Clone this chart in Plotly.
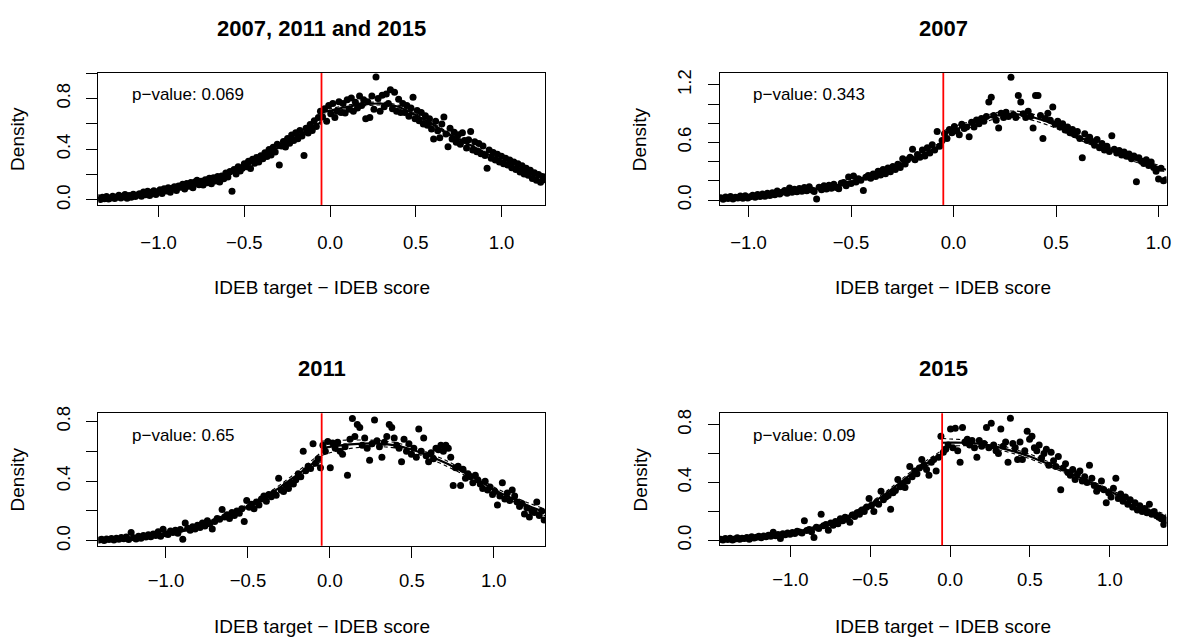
import numpy as np
import plotly.graph_objects as go

# ---------------- data ----------------
cutoff = -0.05
titles = ["2007, 2011 and 2015", "2007", "2011", "2015"]
pvalues = ["0.069", "0.343", "0.65", "0.09"]
bin_width = [0.012, 0.012, 0.015, 0.015]

# binned densities (left / right of cutoff, ordered by x)
p1_left = [0.018, 0.004, 0.022, 0.010, 0.028, 0.008, 0.016, 0.030, 0.012, 0.024,
           0.038, 0.016, 0.030, 0.044, 0.014, 0.036, 0.022, 0.046, 0.028, 0.040,
           0.050, 0.030, 0.062, 0.042, 0.068, 0.036, 0.060, 0.072, 0.044, 0.064,
           0.080, 0.052, 0.088, 0.070, 0.096, 0.060, 0.092, 0.104, 0.074, 0.110,
           0.100, 0.124, 0.086, 0.130, 0.108, 0.138, 0.096, 0.142, 0.155, 0.120,
           0.148, 0.118, 0.160, 0.136, 0.172, 0.128, 0.176, 0.150, 0.185, 0.142,
           0.190, 0.168, 0.212, 0.182, 0.225, 0.068, 0.240, 0.205, 0.262, 0.228,
           0.250, 0.285, 0.262, 0.305, 0.248, 0.322, 0.290, 0.335, 0.300, 0.348,
           0.325, 0.372, 0.342, 0.398, 0.355, 0.415, 0.378, 0.440, 0.275, 0.425,
           0.462, 0.418, 0.485, 0.448, 0.512, 0.470, 0.530, 0.482, 0.548, 0.505,
           0.350, 0.565, 0.528, 0.595, 0.548, 0.625, 0.580, 0.650, 0.700]
p1_right = [0.655, 0.720, 0.620, 0.745, 0.680, 0.760, 0.650, 0.700, 0.775, 0.690,
            0.760, 0.685, 0.790, 0.715, 0.805, 0.700, 0.770, 0.725, 0.820, 0.745,
            0.790, 0.640, 0.775, 0.650, 0.820, 0.715, 0.970, 0.800, 0.700, 0.825,
            0.735, 0.835, 0.760, 0.870, 0.720, 0.850, 0.700, 0.795, 0.690, 0.760,
            0.690, 0.745, 0.660, 0.725, 0.810, 0.640, 0.705, 0.625, 0.690, 0.600,
            0.665, 0.590, 0.640, 0.560, 0.480, 0.620, 0.545, 0.490, 0.600, 0.655,
            0.520, 0.420, 0.565, 0.480, 0.535, 0.455, 0.515, 0.440, 0.530, 0.470,
            0.410, 0.475, 0.540, 0.395, 0.460, 0.380, 0.445, 0.365, 0.425, 0.350,
            0.250, 0.395, 0.330, 0.375, 0.315, 0.360, 0.300, 0.345, 0.285, 0.330,
            0.275, 0.315, 0.255, 0.300, 0.240, 0.285, 0.220, 0.270, 0.205, 0.250,
            0.195, 0.235, 0.170, 0.215, 0.155, 0.200, 0.140, 0.185, 0.160]

p2_left = [0.025, 0.008, 0.032, 0.015, 0.038, 0.010, 0.030, 0.020, 0.042, 0.018,
           0.045, 0.022, 0.035, 0.050, 0.028, 0.058, 0.036, 0.062, 0.040, 0.070,
           0.048, 0.075, 0.055, 0.095, 0.062, 0.080, 0.100, 0.070, 0.125, 0.082,
           0.112, 0.085, 0.120, 0.092, 0.130, 0.098, 0.138, 0.105, 0.090, 0.012,
           0.132, 0.108, 0.148, 0.115, 0.155, 0.122, 0.165, 0.130, 0.118, 0.175,
           0.182, 0.150, 0.240, 0.172, 0.250, 0.188, 0.222, 0.205, 0.100, 0.238,
           0.255, 0.228, 0.270, 0.245, 0.300, 0.260, 0.318, 0.275, 0.335, 0.295,
           0.350, 0.318, 0.372, 0.340, 0.430, 0.375, 0.420, 0.445, 0.530, 0.420,
           0.475, 0.445, 0.520, 0.460, 0.545, 0.490, 0.575, 0.520, 0.715, 0.560,
           0.620]
p2_right = [0.690, 0.640, 0.735, 0.700, 0.765, 0.720, 0.680, 0.790, 0.745, 0.760,
            0.660, 0.810, 0.760, 0.835, 0.795, 0.850, 0.820, 0.870, 1.020, 1.070,
            0.880, 0.830, 0.750, 0.905, 0.860, 0.915, 0.870, 1.278, 0.890, 0.860,
            1.090, 1.020, 0.900, 0.860, 0.925, 0.870, 0.750, 1.090, 1.090, 0.880,
            0.640, 0.850, 0.905, 0.830, 0.970, 0.790, 0.820, 0.760, 0.795, 0.730,
            0.760, 0.700, 0.735, 0.680, 0.715, 0.640, 0.440, 0.690, 0.620, 0.655,
            0.610, 0.570, 0.630, 0.545, 0.590, 0.520, 0.560, 0.505, 0.670, 0.530,
            0.490, 0.515, 0.470, 0.500, 0.455, 0.480, 0.430, 0.460, 0.190, 0.440,
            0.405, 0.380, 0.420, 0.360, 0.395, 0.340, 0.300, 0.220, 0.330, 0.200,
            0.210]

p3_left = [0.005, 0.010, 0.002, 0.012, 0.008, 0.015, 0.006, 0.018, 0.010, 0.022,
           0.014, 0.025, 0.008, 0.055, 0.020, 0.012, 0.030, 0.018, 0.035, 0.025,
           0.040, 0.028, 0.045, 0.035, 0.060, 0.030, 0.077, 0.048, 0.042, 0.065,
           0.055, 0.070, 0.050, 0.075, 0.010, 0.120, 0.085, 0.070, 0.095, 0.080,
           0.105, 0.090, 0.120, 0.100, 0.135, 0.115, 0.080, 0.130, 0.150, 0.145,
           0.210, 0.160, 0.175, 0.150, 0.190, 0.170, 0.200, 0.185, 0.215, 0.130,
           0.270, 0.225, 0.245, 0.215, 0.260, 0.240, 0.280, 0.300, 0.265, 0.310,
           0.295, 0.320, 0.305, 0.420, 0.340, 0.330, 0.370, 0.350, 0.390, 0.380,
           0.410, 0.450, 0.430, 0.600, 0.470, 0.500, 0.485, 0.650, 0.520, 0.550,
           0.490]
p3_right = [0.640, 0.600, 0.665, 0.490, 0.655, 0.620, 0.660, 0.600, 0.580, 0.630,
            0.440, 0.680, 0.820, 0.700, 0.780, 0.760, 0.640, 0.690, 0.620, 0.540,
            0.650, 0.810, 0.670, 0.630, 0.560, 0.660, 0.700, 0.780, 0.760, 0.690,
            0.640, 0.620, 0.530, 0.680, 0.600, 0.650, 0.580, 0.620, 0.560, 0.750,
            0.600, 0.690, 0.570, 0.530, 0.590, 0.550, 0.620, 0.610, 0.640, 0.600,
            0.640, 0.620, 0.560, 0.370, 0.490, 0.500, 0.370, 0.480, 0.420, 0.450,
            0.430, 0.390, 0.440, 0.410, 0.380, 0.350, 0.400, 0.340, 0.360, 0.310,
            0.330, 0.240, 0.300, 0.390, 0.280, 0.320, 0.270, 0.340, 0.300, 0.260,
            0.230, 0.250, 0.180, 0.220, 0.160, 0.200, 0.190, 0.260, 0.170, 0.200,
            0.140]

p4_left = [0.008, 0.003, 0.012, 0.006, 0.015, 0.002, 0.010, 0.018, 0.007, 0.014,
           0.012, 0.020, 0.008, 0.025, 0.016, 0.022, 0.028, 0.018, 0.030, 0.024,
           0.035, 0.028, 0.056, 0.032, 0.040, 0.012, 0.045, 0.038, 0.050, 0.042,
           0.055, 0.048, 0.062, 0.058, 0.050, 0.135, 0.068, 0.075, 0.060, 0.020,
           0.090, 0.082, 0.180, 0.100, 0.110, 0.070, 0.120, 0.105, 0.130, 0.115,
           0.150, 0.135, 0.160, 0.145, 0.125, 0.175, 0.165, 0.190, 0.180, 0.210,
           0.200, 0.230, 0.290, 0.240, 0.200, 0.260, 0.250, 0.340, 0.280, 0.300,
           0.310, 0.215, 0.330, 0.345, 0.420, 0.370, 0.390, 0.365, 0.410, 0.510,
           0.440, 0.480, 0.460, 0.500, 0.560, 0.520, 0.490, 0.450, 0.540, 0.560,
           0.480, 0.575, 0.720]
p4_right = [0.610, 0.630, 0.660, 0.770, 0.640, 0.775, 0.620, 0.540, 0.780, 0.680,
            0.700, 0.660, 0.690, 0.640, 0.575, 0.690, 0.650, 0.670, 0.780, 0.640,
            0.810, 0.660, 0.620, 0.600, 0.770, 0.650, 0.680, 0.540, 0.845, 0.670,
            0.640, 0.560, 0.680, 0.560, 0.620, 0.755, 0.700, 0.720, 0.640, 0.620,
            0.660, 0.570, 0.600, 0.630, 0.520, 0.610, 0.550, 0.510, 0.580, 0.350,
            0.500, 0.530, 0.470, 0.450, 0.490, 0.420, 0.460, 0.480, 0.410, 0.440,
            0.400, 0.520, 0.430, 0.380, 0.340, 0.360, 0.410, 0.350, 0.260, 0.330,
            0.300, 0.360, 0.430, 0.290, 0.320, 0.270, 0.300, 0.250, 0.280, 0.230,
            0.260, 0.210, 0.240, 0.200, 0.220, 0.190, 0.250, 0.180, 0.200, 0.170,
            0.160, 0.150, 0.110, 0.140]

# fitted densities (local linear fits), with CI half widths
f1_lx = [-1.352, -1.2, -1.0, -0.9, -0.8, -0.7, -0.6, -0.5, -0.4, -0.3, -0.2, -0.1, -0.05]
f1_ly = [0.012, 0.028, 0.060, 0.085, 0.115, 0.148, 0.195, 0.262, 0.335, 0.415, 0.495, 0.575, 0.615]
f1_lh = [0.004, 0.005, 0.006, 0.006, 0.007, 0.007, 0.008, 0.008, 0.009, 0.010, 0.011, 0.013, 0.015]
f1_rx = [-0.05, 0.0, 0.1, 0.2, 0.3, 0.4, 0.5, 0.6, 0.7, 0.8, 0.9, 1.0, 1.1, 1.2, 1.256]
f1_ry = [0.690, 0.705, 0.735, 0.755, 0.760, 0.735, 0.670, 0.595, 0.515, 0.445, 0.375, 0.310, 0.250, 0.195, 0.168]
f1_rh = [0.018, 0.015, 0.013, 0.012, 0.012, 0.012, 0.011, 0.011, 0.010, 0.010, 0.009, 0.009, 0.009, 0.009, 0.010]

f2_lx = [-1.136, -1.0, -0.9, -0.8, -0.7, -0.6, -0.5, -0.4, -0.3, -0.2, -0.1, -0.05]
f2_ly = [0.020, 0.035, 0.058, 0.085, 0.110, 0.140, 0.190, 0.250, 0.330, 0.430, 0.530, 0.590]
f2_lh = [0.008, 0.008, 0.009, 0.010, 0.011, 0.012, 0.013, 0.015, 0.017, 0.020, 0.024, 0.028]
f2_rx = [-0.05, 0.0, 0.1, 0.2, 0.3, 0.4, 0.5, 0.6, 0.7, 0.8, 0.9, 1.0, 1.036]
f2_ry = [0.680, 0.730, 0.800, 0.875, 0.895, 0.855, 0.780, 0.670, 0.575, 0.490, 0.410, 0.340, 0.315]
f2_rh = [0.040, 0.035, 0.032, 0.032, 0.033, 0.033, 0.032, 0.030, 0.027, 0.024, 0.022, 0.022, 0.024]

f3_lx = [-1.4075, -1.2, -1.0, -0.9, -0.8, -0.7, -0.6, -0.5, -0.4, -0.3, -0.2, -0.1, -0.05]
f3_ly = [0.005, 0.020, 0.045, 0.068, 0.098, 0.138, 0.180, 0.232, 0.292, 0.362, 0.442, 0.522, 0.565]
f3_lh = [0.005, 0.006, 0.007, 0.008, 0.009, 0.010, 0.011, 0.012, 0.014, 0.016, 0.020, 0.026, 0.032]
f3_rx = [-0.05, 0.0, 0.1, 0.2, 0.3, 0.4, 0.5, 0.6, 0.7, 0.8, 0.9, 1.0, 1.1, 1.2, 1.315]
f3_ry = [0.620, 0.630, 0.645, 0.652, 0.652, 0.640, 0.612, 0.572, 0.525, 0.470, 0.410, 0.345, 0.290, 0.240, 0.190]
f3_rh = [0.048, 0.040, 0.030, 0.024, 0.020, 0.018, 0.018, 0.018, 0.018, 0.017, 0.016, 0.016, 0.017, 0.019, 0.022]

f4_lx = [-1.4375, -1.2, -1.0, -0.9, -0.8, -0.7, -0.6, -0.5, -0.4, -0.3, -0.2, -0.1, -0.05]
f4_ly = [0.005, 0.020, 0.050, 0.074, 0.104, 0.140, 0.190, 0.250, 0.325, 0.410, 0.495, 0.565, 0.600]
f4_lh = [0.004, 0.005, 0.006, 0.007, 0.008, 0.009, 0.010, 0.012, 0.014, 0.016, 0.018, 0.022, 0.025]
f4_rx = [-0.05, 0.0, 0.1, 0.2, 0.3, 0.4, 0.5, 0.6, 0.7, 0.8, 0.9, 1.0, 1.1, 1.2, 1.3, 1.3525]
f4_ry = [0.675, 0.676, 0.675, 0.665, 0.645, 0.615, 0.580, 0.535, 0.490, 0.440, 0.390, 0.340, 0.285, 0.232, 0.187, 0.165]
f4_rh = [0.030, 0.025, 0.020, 0.018, 0.017, 0.016, 0.016, 0.015, 0.015, 0.014, 0.013, 0.013, 0.012, 0.012, 0.012, 0.013]

x_ranges = [[-1.352, 1.256], [-1.141, 1.039], [-1.413, 1.315], [-1.443, 1.355]]
y_ranges = [[-0.039, 1.001], [-0.051, 1.323], [-0.033, 0.855], [-0.034, 0.879]]
x_tickvals = [-1.0, -0.5, 0.0, 0.5, 1.0]
x_ticktext = ["\u22121.0", "\u22120.5", "0.0", "0.5", "1.0"]
y_tickvals = [[0, 0.2, 0.4, 0.6, 0.8, 1.0], [0, 0.2, 0.4, 0.6, 0.8, 1.0, 1.2],
              [0, 0.2, 0.4, 0.6, 0.8], [0, 0.2, 0.4, 0.6, 0.8]]
y_ticktext = [["0.0", "", "0.4", "", "0.8", ""], ["0.0", "", "", "0.6", "", "", "1.2"],
              ["0.0", "", "0.4", "", "0.8"], ["0.0", "", "0.4", "", "0.8"]]
xlabel = "IDEB target \u2212 IDEB score"
ylabel = "Density"

points = [(p1_left, p1_right), (p2_left, p2_right), (p3_left, p3_right), (p4_left, p4_right)]
fits = [(f1_lx, f1_ly, f1_lh, f1_rx, f1_ry, f1_rh),
        (f2_lx, f2_ly, f2_lh, f2_rx, f2_ry, f2_rh),
        (f3_lx, f3_ly, f3_lh, f3_rx, f3_ry, f3_rh),
        (f4_lx, f4_ly, f4_lh, f4_rx, f4_ry, f4_rh)]

# ---------------- layout (pixels) ----------------
W, H = 1182, 642
boxes = [(98.7, 547.7, 67.3, 201.7), (722.7, 1171.5, 67.3, 201.7),
         (98.7, 547.7, 414.0, 549.0), (722.7, 1171.5, 414.0, 548.5)]
title_y = [22, 22, 368, 368]
xlab_y = [286, 286, 631, 631]
ylab_x = [18, 643, 18, 643]
xstand = [10, 10, 7, 7]
FONT = "Liberation Sans, Arial, Helvetica, sans-serif"

fig = go.Figure()
layout = dict(width=W, height=H, margin=dict(l=0, r=0, t=0, b=0),
              paper_bgcolor="white", plot_bgcolor="white", showlegend=False,
              font=dict(family=FONT, color="black"))
annotations = []
shapes = []

for k in range(4):
    xa = "x" if k == 0 else f"x{k+1}"
    ya = "y" if k == 0 else f"y{k+1}"
    x0, x1, yt, yb = boxes[k]
    left, right = points[k]
    bw = bin_width[k]
    xl = cutoff - bw / 2 - bw * np.arange(len(left))[::-1]
    xr = cutoff + bw / 2 + bw * np.arange(len(right))
    fig.add_trace(go.Scatter(x=np.concatenate([xl, xr]), y=left + right, mode="markers",
                             marker=dict(color="black", size=7, line=dict(width=0)),
                             xaxis=xa, yaxis=ya, hoverinfo="skip"))
    lx, ly, lh, rx, ry, rh = fits[k]
    for fx, fy, fh in ((lx, ly, lh), (rx, ry, rh)):
        fy = np.array(fy); fh = np.array(fh)
        for yy, dash, wdt in ((fy, "solid", 2.2), (fy + fh, "4px,3px", 1.1), (fy - fh, "4px,3px", 1.1)):
            fig.add_trace(go.Scatter(x=fx, y=yy, mode="lines",
                                     line=dict(color="black", width=wdt, dash=dash, shape="spline", smoothing=0.8),
                                     xaxis=xa, yaxis=ya, hoverinfo="skip"))
    axkey = "xaxis" if k == 0 else f"xaxis{k+1}"
    aykey = "yaxis" if k == 0 else f"yaxis{k+1}"
    common = dict(showline=True, linecolor="black", linewidth=1, mirror=True,
                  ticks="outside", ticklen=11, tickwidth=1, tickcolor="black",
                  showgrid=False, zeroline=False, fixedrange=True,
                  tickfont=dict(family=FONT, size=18.5, color="black"))
    layout[axkey] = dict(common, domain=[x0 / W, x1 / W], range=x_ranges[k], anchor=ya,
                         tickmode="array", tickvals=x_tickvals, ticktext=x_ticktext,
                         ticklabelstandoff=xstand[k], ticklabeloverflow="allow")
    layout[aykey] = dict(common, domain=[1 - yb / H, 1 - yt / H], range=y_ranges[k], anchor=xa,
                         tickmode="array", tickvals=y_tickvals[k], ticktext=y_ticktext[k],
                         tickangle=-90, ticklabelstandoff=9)
    shapes.append(dict(type="line", xref=xa, yref=f"{ya} domain", x0=cutoff, x1=cutoff, y0=0, y1=1,
                       line=dict(color="#ff0000", width=1.8)))
    cx = (x0 + x1) / 2 / W
    annotations.append(dict(text=f"<b>{titles[k]}</b>", xref="paper", yref="paper", x=cx,
                            y=1 - title_y[k] / H, showarrow=False, xanchor="center", yanchor="middle",
                            font=dict(family=FONT, size=22, color="black")))
    annotations.append(dict(text=xlabel, xref="paper", yref="paper", x=cx, y=1 - xlab_y[k] / H,
                            showarrow=False, xanchor="center", yanchor="middle",
                            font=dict(family=FONT, size=19, color="black")))
    annotations.append(dict(text=ylabel, xref="paper", yref="paper", x=ylab_x[k] / W,
                            y=1 - (yt + yb) / 2 / H, showarrow=False, textangle=-90,
                            xanchor="center", yanchor="middle",
                            font=dict(family=FONT, size=19, color="black")))
    annotations.append(dict(text=f"p\u2212value: {pvalues[k]}", xref=f"{xa} domain", yref=f"{ya} domain",
                            x=0.07, y=0.84 if k < 2 else 0.832, showarrow=False,
                            xanchor="left", yanchor="middle",
                            font=dict(family=FONT, size=17, color="black")))

layout["annotations"] = annotations
layout["shapes"] = shapes
fig.update_layout(**layout)
fig.write_html("out.html", config={"displayModeBar": False, "staticPlot": False},
               post_script="document.body.style.margin='0px';document.body.style.padding='0px';")
